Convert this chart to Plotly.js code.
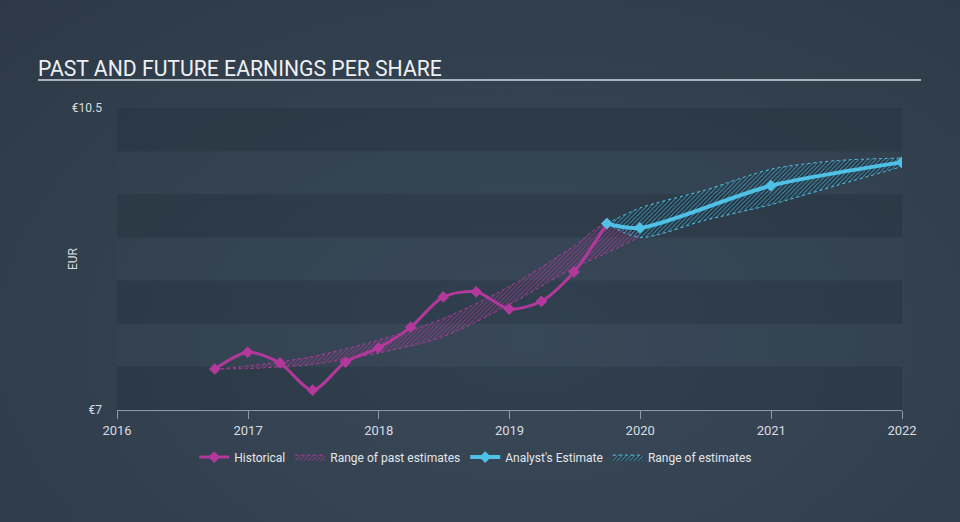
<!DOCTYPE html>
<html>
<head>
<meta charset="utf-8">
<script src="https://cdn.plot.ly/plotly-3.0.1.min.js"></script>
<style>
  html, body { margin: 0; padding: 0; }
  body {
    width: 960px; height: 522px; overflow: hidden;
    background: radial-gradient(ellipse at 55% 65%, #394858 0%, #344251 45%, #2d3946 100%);
  }
  #chart { width: 960px; height: 522px; }
</style>
</head>
<body>
<div id="chart"></div>
<script>
// quarterly EPS (EUR)
const histDates = ['2016-09-30', '2016-12-31', '2017-03-31', '2017-06-30', '2017-09-30', '2017-12-31',
  '2018-03-31', '2018-06-30', '2018-09-30', '2018-12-31', '2019-03-31', '2019-06-30', '2019-09-30'];
const histEps = [7.475, 7.67, 7.545, 7.23, 7.556, 7.72, 7.96, 8.31, 8.37, 8.17, 8.26, 8.6, 9.16];

const estDates = ['2019-09-30', '2019-12-31', '2020-12-31', '2021-12-31'];
const estEps = [9.16, 9.11, 9.6, 9.87];

const pastRangeDates = ['2016-09-30', '2016-12-31', '2017-06-30', '2017-12-31', '2018-06-30',
  '2018-12-31', '2019-06-30', '2019-09-30', '2019-12-31'];
const pastRangeHigh = [7.475, 7.51, 7.62, 7.81, 8.06, 8.43, 8.9, 9.16, 9.01];
const pastRangeLow = [7.475, 7.48, 7.53, 7.66, 7.85, 8.22, 8.65, 8.82, 9.01];

const estRangeDates = ['2019-09-30', '2019-12-31', '2020-07-01', '2020-12-31', '2021-07-01', '2021-12-31'];
const estRangeHigh = [9.16, 9.34, 9.55, 9.79, 9.89, 9.92];
const estRangeLow = [9.16, 9.0, 9.2, 9.38, 9.6, 9.82];

const bandEdges = [7, 7.5, 8, 8.5, 9, 9.5, 10, 10.5];
const yTicks = [7, 10.5];
const yTickText = ['€7', '€10.5'];

const PINK = '#b2399b';
const BLUE = '#4fc1e6';

function band(x, hi, lo, color, base, name, rank) {
  return [{
    x, y: hi, mode: 'lines', showlegend: false, hoverinfo: 'skip',
    line: { color, width: 1, dash: 'dot', shape: 'spline', smoothing: 0.8 }
  }, {
    x, y: lo, mode: 'lines', name, legendrank: rank, hoverinfo: 'skip',
    fill: 'tonexty', fillcolor: base,
    fillpattern: { shape: '/', fgcolor: color, bgcolor: base, size: 3, solidity: 0.3, fgopacity: 0.7 },
    line: { color, width: 1, dash: 'dot', shape: 'spline', smoothing: 0.8 }
  }];
}

const data = [
  ...band(pastRangeDates, pastRangeHigh, pastRangeLow, PINK, 'rgba(0,0,0,0)', 'Range of past estimates', 2),
  ...band(estRangeDates, estRangeHigh, estRangeLow, BLUE, 'rgba(22,32,44,0.4)', 'Range of estimates', 4),
  {
    x: histDates, y: histEps, name: 'Historical', legendrank: 1,
    mode: 'lines+markers',
    line: { color: PINK, width: 3, shape: 'spline', smoothing: 0.8 },
    marker: { symbol: 'diamond', size: 9, color: PINK }
  },
  {
    x: estDates, y: estEps, name: "Analyst's Estimate", legendrank: 3,
    mode: 'lines+markers',
    line: { color: BLUE, width: 4, shape: 'spline', smoothing: 0.8 },
    marker: { symbol: 'diamond', size: 9, color: BLUE }
  }
];

// alternating horizontal bands
const shapes = bandEdges.slice(0, -1).map((y0, i) => ({
  type: 'rect', xref: 'paper', yref: 'y', layer: 'below',
  x0: 0, x1: 1, y0, y1: bandEdges[i + 1], line: { width: 0 },
  fillcolor: i % 2 === 0 ? 'rgba(25,35,47,0.22)' : 'rgba(70,85,100,0.06)'
}));
// title underline
shapes.push({
  type: 'line', xref: 'paper', yref: 'paper',
  x0: -0.1006, x1: 1.0242, y0: 1.093, y1: 1.093,
  line: { color: '#a9b1bb', width: 2 }
});

const layout = {
  width: 960, height: 522,
  margin: { l: 117, r: 58, t: 108, b: 112 },
  paper_bgcolor: 'rgba(0,0,0,0)',
  plot_bgcolor: 'rgba(0,0,0,0)',
  font: { family: 'Roboto, sans-serif', color: '#d9dde2', size: 12 },
  title: {
    text: 'PAST AND FUTURE EARNINGS PER SHARE',
    font: { family: 'Roboto, sans-serif', size: 21.2, color: '#eef0f3' },
    xref: 'container', yref: 'container',
    x: 38 / 960, xanchor: 'left', y: 1 - 69 / 522, yanchor: 'middle'
  },
  xaxis: {
    type: 'date', range: ['2016-01-01', '2022-01-01'],
    dtick: 'M12', tick0: '2016-01-01', tickformat: '%Y',
    showgrid: false, zeroline: false,
    showline: true, linecolor: '#8d9aa8', linewidth: 1,
    ticks: 'outside', ticklen: 8, tickcolor: '#8d9aa8',
    tickfont: { size: 13, color: '#d9dde2' }
  },
  yaxis: {
    range: [7, 10.5], tickvals: yTicks, ticktext: yTickText,
    showgrid: false, zeroline: false, showline: false, ticks: '',
    ticklabelstandoff: 14,
    tickfont: { size: 12, color: '#d9dde2' }
  },
  annotations: [{
    text: 'EUR', xref: 'paper', yref: 'paper', showarrow: false,
    x: (73 - 117) / 785, y: 0.5, xanchor: 'center', yanchor: 'middle',
    textangle: -90, font: { size: 12, color: '#d9dde2' }
  }],
  shapes,
  showlegend: true,
  legend: {
    orientation: 'h', traceorder: 'normal',
    x: 0.457, xanchor: 'center', y: -0.156, yanchor: 'middle',
    font: { size: 12, color: '#e3e6ea' }, bgcolor: 'rgba(0,0,0,0)',
    itemwidth: 30
  },
  hovermode: false
};

Plotly.newPlot('chart', data, layout, { staticPlot: true, displayModeBar: false });
</script>
</body>
</html>
